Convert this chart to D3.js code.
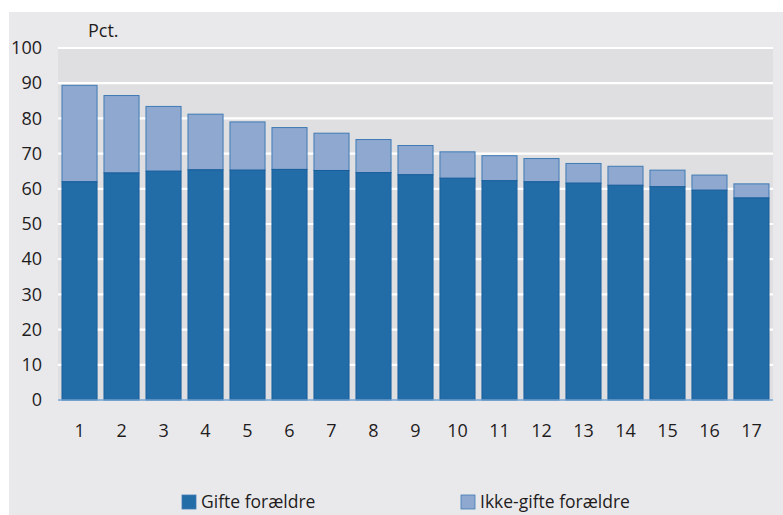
<!DOCTYPE html>
<html>
<head>
<meta charset="utf-8">
<script src="https://cdn.jsdelivr.net/npm/d3@7"></script>
<style>
  body { margin: 0; background: #fff; }
  text { font-family: "Open Sans", sans-serif; fill: #1f1c1d; }
</style>
</head>
<body>
<div id="chart"></div>
<script>
var categories = ["1","2","3","4","5","6","7","8","9","10","11","12","13","14","15","16","17"];
var gifte = [62.0, 64.5, 65.0, 65.4, 65.3, 65.5, 65.2, 64.6, 64.0, 63.0, 62.3, 62.0, 61.6, 61.0, 60.6, 59.6, 57.4];
var total = [89.4, 86.5, 83.4, 81.2, 79.0, 77.4, 75.8, 74.0, 72.3, 70.5, 69.4, 68.6, 67.2, 66.4, 65.3, 63.9, 61.4];
var yTicks = [0, 10, 20, 30, 40, 50, 60, 70, 80, 90, 100];
var seriesNames = ["Gifte forældre", "Ikke-gifte forældre"];

var width = 783,
    height = 515;

var colors = { gifte: "#226ca8", ikke: "#8ea8cf" };

var svg = d3.select("#chart").append("svg")
    .attr("width", width)
    .attr("height", height);

// outer panel
svg.append("rect")
    .attr("x", 9).attr("y", 12)
    .attr("width", width - 9).attr("height", height - 12)
    .attr("fill", "#e9e9eb");

var x = d3.scaleBand()
    .domain(categories)
    .range([58, 773])
    .paddingInner(0.165)
    .paddingOuter(0.095);

var y = d3.scaleLinear()
    .domain([0, 100])
    .range([400, 48]);

// plot area
svg.append("rect")
    .attr("x", 58).attr("y", y(100))
    .attr("width", 773 - 58).attr("height", y(0) - y(100))
    .attr("fill", "#dfdfe1");

svg.append("g")
    .selectAll("line")
    .data(yTicks)
    .enter().append("line")
    .attr("x1", 58).attr("x2", 773)
    .attr("y1", function(d) { return y(d); })
    .attr("y2", function(d) { return y(d); })
    .attr("stroke", "#fff")
    .attr("stroke-width", 2.2);

var bars = svg.append("g");

bars.selectAll("rect.ikke")
    .data(categories)
    .enter().append("rect")
    .attr("class", "ikke")
    .attr("x", function(d) { return x(d); })
    .attr("width", x.bandwidth())
    .attr("y", function(d, i) { return y(total[i]); })
    .attr("height", function(d, i) { return y(gifte[i]) - y(total[i]); })
    .attr("fill", colors.ikke)
    .attr("stroke", "#3f7bb5")
    .attr("stroke-width", 1);

bars.selectAll("rect.gifte")
    .data(categories)
    .enter().append("rect")
    .attr("class", "gifte")
    .attr("x", function(d) { return x(d); })
    .attr("width", x.bandwidth())
    .attr("y", function(d, i) { return y(gifte[i]); })
    .attr("height", function(d, i) { return y(0) - y(gifte[i]); })
    .attr("fill", colors.gifte)
    .attr("stroke", "#1a5f9c")
    .attr("stroke-width", 1);

// baseline
svg.append("line")
    .attr("x1", 58).attr("x2", 773)
    .attr("y1", y(0)).attr("y2", y(0))
    .attr("stroke", "#6c9ccb")
    .attr("stroke-width", 1.5);

// y axis labels
var yAxis = d3.axisLeft(y).tickValues(yTicks).tickSize(0).tickPadding(0);
var gy = svg.append("g")
    .attr("transform", "translate(42,0)")
    .call(yAxis);
gy.select(".domain").remove();
gy.selectAll("text")
    .attr("font-size", 18)
    .attr("font-family", "Open Sans, sans-serif")
    .attr("fill", "#1f1c1d");

// x axis labels
var xAxis = d3.axisBottom(x).tickSize(0).tickPadding(0);
var gx = svg.append("g")
    .attr("transform", "translate(0,424)")
    .call(xAxis);
gx.select(".domain").remove();
gx.selectAll("text")
    .attr("font-size", 18)
    .attr("font-family", "Open Sans, sans-serif")
    .attr("fill", "#1f1c1d");

svg.append("text")
    .attr("x", 88).attr("y", 37)
    .attr("font-size", 18)
    .text("Pct.");

// legend
var legend = svg.append("g");
var legX = [182, 461];
var legColors = [colors.gifte, colors.ikke];
seriesNames.forEach(function(name, i) {
    legend.append("rect")
        .attr("x", legX[i]).attr("y", 495)
        .attr("width", 14).attr("height", 14)
        .attr("fill", legColors[i])
        .attr("stroke", "#3f7bb5")
        .attr("stroke-width", 0.8);
    legend.append("text")
        .attr("x", legX[i] + 19).attr("y", 508)
        .attr("font-size", 17.5)
        .text(name);
});
</script>
</body>
</html>
